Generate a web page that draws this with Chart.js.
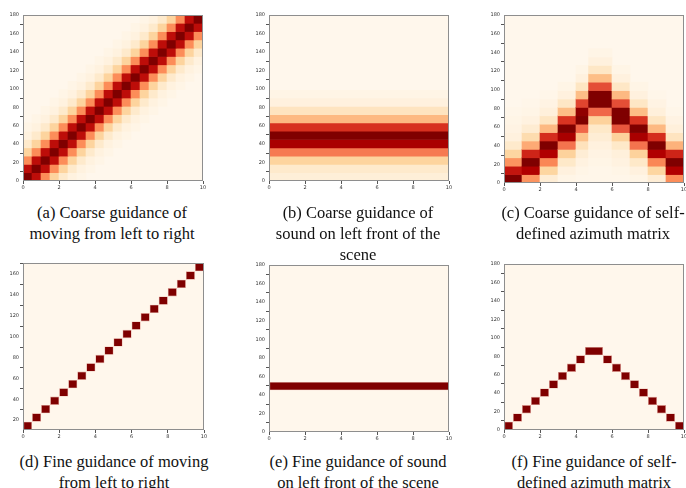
<!DOCTYPE html>
<html>
<head>
<meta charset="utf-8">
<script src="https://cdn.jsdelivr.net/npm/chart.js@4.4.0/dist/chart.umd.min.js"></script>
<style>
  body { margin: 0; width: 686px; height: 488px; background: #fff; position: relative; overflow: hidden; }
  canvas { position: absolute; }
  .cap { position: absolute; width: 240px; text-align: center; font-family: 'Liberation Serif', 'Times New Roman', serif;
         font-size: 16.5px; line-height: 21px; color: #111; white-space: nowrap; }
</style>
</head>
<body>
<canvas id="chart-a"></canvas>
<canvas id="chart-b"></canvas>
<canvas id="chart-c"></canvas>
<canvas id="chart-d"></canvas>
<canvas id="chart-e"></canvas>
<canvas id="chart-f"></canvas>

<div class="cap" style="left:-8px;top:202px">(a) Coarse guidance of<br>moving from left to right</div>
<div class="cap" style="left:238px;top:202px">(b) Coarse guidance of<br>sound on left front of the<br>scene</div>
<div class="cap" style="left:473px;top:202px">(c) Coarse guidance of self-<br>defined azimuth matrix</div>
<div class="cap" style="left:-6px;top:451px">(d) Fine guidance of moving<br>from left to right</div>
<div class="cap" style="left:238px;top:451px">(e) Fine guidance of sound<br>on left front of the scene</div>
<div class="cap" style="left:474px;top:451px">(f) Fine guidance of self-<br>defined azimuth matrix</div>

<script>
// matplotlib OrRd stops
const OR_RD = ['#fff7ec', '#fee8c8', '#fdd49e', '#fdbb84', '#fc8d59', '#ef6548', '#d7301f', '#b30000', '#7f0000'];

// tick values
const xTickValues = [0, 2, 4, 6, 8, 10];
const yTickValues = [0, 20, 40, 60, 80, 100, 120, 140, 160, 180];
const dYTickValues = [20, 40, 60, 80, 100, 120, 140, 160];

// time columns (half steps) and azimuth rows
const halfCols = [0, 0.5, 1, 1.5, 2, 2.5, 3, 3.5, 4, 4.5, 5, 5.5, 6, 6.5, 7, 7.5, 8, 8.5, 9, 9.5, 10];
const rows9 = [4.5, 13.5, 22.5, 31.5, 40.5, 49.5, 58.5, 67.5, 76.5, 85.5, 94.5, 103.5, 112.5, 121.5, 130.5, 139.5, 148.5, 157.5, 166.5, 175.5];
const rows8 = [14.5, 22.5, 30.5, 38.5, 46.5, 54.5, 62.5, 70.5, 78.5, 86.5, 94.5, 102.5, 110.5, 118.5, 126.5, 134.5, 142.5, 150.5, 158.5, 166.5];

// (a) coarse moving: peak row per column, falloff by row distance
const aPeakRow = [0, 1, 2, 3, 4, 5, 6, 7, 8, 9, 10, 11, 12, 13, 14, 15, 16, 17, 18, 19];
const aFalloff = [1.0, 0.84, 0.5, 0.25, 0.11, 0.045, 0.02];

// (b) coarse sound: intensity per row, bottom up
const bRowValues = [0.07, 0.11, 0.25, 0.56, 0.9, 1.0, 0.75, 0.38, 0.15, 0.05, 0.02, 0, 0, 0, 0, 0, 0, 0, 0, 0];

// (c) coarse azimuth: column edges and intensities per column, bottom row first
const cColEdges = [0, 1, 2, 3, 4, 4.7, 6, 7, 8, 9, 10];
const cColumns = [
  [1.0, 0.82, 0.48, 0.24, 0.11, 0.05, 0.03, 0.02, 0.01],
  [0.48, 0.88, 1.0, 0.78, 0.42, 0.2, 0.09, 0.04, 0.02, 0.01],
  [0.08, 0.24, 0.52, 0.88, 1.0, 0.76, 0.38, 0.14, 0.06, 0.03, 0.01],
  [0.02, 0.05, 0.12, 0.26, 0.58, 0.9, 1.0, 0.74, 0.36, 0.13, 0.05, 0.02],
  [0.01, 0.02, 0.04, 0.08, 0.16, 0.34, 0.62, 1.0, 0.96, 0.7, 0.36, 0.14, 0.05, 0.02],
  [0.01, 0.01, 0.02, 0.03, 0.05, 0.08, 0.12, 0.26, 0.62, 1.0, 1.0, 0.68, 0.36, 0.13, 0.05, 0.02],
  [0.01, 0.02, 0.04, 0.06, 0.12, 0.26, 0.66, 1.0, 1.0, 0.68, 0.38, 0.13, 0.05, 0.02],
  [0.02, 0.05, 0.12, 0.26, 0.58, 0.9, 1.0, 0.74, 0.36, 0.13, 0.05, 0.02],
  [0.08, 0.24, 0.52, 0.88, 1.0, 0.76, 0.38, 0.14, 0.06, 0.03, 0.01],
  [0.5, 0.88, 1.0, 0.78, 0.4, 0.15, 0.06, 0.03, 0.01]
];

// (d) fine moving, (e) fine sound, (f) fine azimuth
const dPeakRow = [0, 1, 2, 3, 4, 5, 6, 7, 8, 9, 10, 11, 12, 13, 14, 15, 16, 17, 18, 19];
const eRowValues = [0, 0, 0, 0, 0, 1, 0, 0, 0, 0, 0, 0, 0, 0, 0, 0, 0, 0, 0, 0];
const fColEdges = [0, 0.5, 1, 1.5, 2, 2.5, 3, 3.5, 4, 4.5, 5.5, 6, 6.5, 7, 7.5, 8, 8.5, 9, 9.5, 10];
const fPeakRow = [0, 1, 2, 3, 4, 5, 6, 7, 8, 9, 8, 7, 6, 5, 4, 3, 2, 1, 0];

function hexRgb(h) {
  return [1, 3, 5].map(i => parseInt(h.slice(i, i + 2), 16));
}

function cmap(v) {
  const t = Math.max(0, Math.min(1, v)) * (OR_RD.length - 1);
  const i = Math.min(OR_RD.length - 2, Math.floor(t));
  const f = t - i;
  const a = hexRgb(OR_RD[i]);
  const b = hexRgb(OR_RD[i + 1]);
  return 'rgb(' + a.map((c, k) => Math.round(c + (b[k] - c) * f)).join(',') + ')';
}

// build cell lists
const cellsA = [];
rows9.forEach((y, r) => {
  aPeakRow.forEach((pk, c) => {
    const v = aFalloff[Math.abs(pk - r)];
    if (v) cellsA.push({ y, x: [halfCols[c], halfCols[c + 1]], v });
  });
});

const cellsB = bRowValues.map((v, r) => ({ y: rows9[r], x: [0, 10], v }));

const cellsC = [];
cColumns.forEach((col, c) => {
  col.forEach((v, r) => cellsC.push({ y: rows9[r], x: [cColEdges[c], cColEdges[c + 1]], v }));
});

const cellsD = dPeakRow.map((r, c) => ({ y: rows8[r], x: [halfCols[c], halfCols[c + 1]], v: 1 }));
const cellsE = eRowValues.map((v, r) => ({ y: rows9[r], x: [0, 10], v }));
const cellsF = fPeakRow.map((r, c) => ({ y: rows9[r], x: [fColEdges[c], fColEdges[c + 1]], v: 1 }));

const framePlugin = {
  id: 'frame',
  beforeDatasetsDraw(chart) {
    const a = chart.chartArea, ctx = chart.ctx;
    ctx.save();
    ctx.fillStyle = cmap(0);
    ctx.fillRect(a.left, a.top, a.right - a.left, a.bottom - a.top);
    ctx.restore();
  },
  afterDatasetsDraw(chart) {
    const a = chart.chartArea, ctx = chart.ctx;
    ctx.save();
    ctx.strokeStyle = '#8e8e8e';
    ctx.lineWidth = 1;
    ctx.strokeRect(a.left + 0.5, a.top + 0.5, a.right - a.left - 1, a.bottom - a.top - 1);
    ctx.restore();
  }
};

const tickFont = { family: 'DejaVu Sans', size: 5 };

function fixedTicks(values) {
  return s => { s.ticks = values.map(v => ({ value: v })); };
}

function makeChart(id, box, cells, yMin, yMax, yTicks, fine) {
  const cv = document.getElementById(id);
  cv.width = box.w + 30;
  cv.height = box.h + 17;
  cv.style.left = (box.x - 24) + 'px';
  cv.style.top = (box.y - 3) + 'px';
  return new Chart(cv, {
    type: 'bar',
    data: {
      datasets: [{
        data: cells,
        backgroundColor: c => cmap(c.raw ? c.raw.v : 0),
        borderColor: 'rgba(222,150,140,0.9)',
        borderWidth: c => (fine && c.raw && c.raw.v > 0) ? 0.6 : 0,
        borderSkipped: false,
        inflateAmount: fine ? 0 : 'auto',
        barPercentage: 1,
        categoryPercentage: 1
      }]
    },
    options: {
      indexAxis: 'y',
      responsive: false,
      animation: false,
      events: [],
      layout: { padding: { top: 3, right: 6, left: 0, bottom: 0 } },
      plugins: { legend: { display: false }, tooltip: { enabled: false } },
      scales: {
        x: {
          type: 'linear', min: 0, max: 10, offset: false,
          afterFit: s => { s.height = 14; },
          afterBuildTicks: fixedTicks(xTickValues),
          ticks: { font: tickFont, color: '#333', padding: 1, maxRotation: 0 },
          grid: { drawOnChartArea: false, tickLength: 3, color: '#555' },
          border: { display: false }
        },
        y: {
          type: 'linear', min: yMin, max: yMax, offset: false,
          afterFit: s => { s.width = 24; },
          afterBuildTicks: fixedTicks(yTicks),
          ticks: { font: tickFont, color: '#333', padding: 1 },
          grid: { drawOnChartArea: false, tickLength: 3, color: '#555' },
          border: { display: false }
        }
      }
    },
    plugins: [framePlugin]
  });
}

makeChart('chart-a', { x: 23, y: 14, w: 180, h: 167 }, cellsA, 0, 180, yTickValues, false);
makeChart('chart-b', { x: 269, y: 14, w: 180, h: 167 }, cellsB, 0, 180, yTickValues, false);
makeChart('chart-c', { x: 504, y: 14, w: 180, h: 169 }, cellsC, 0, 180, yTickValues, false);
makeChart('chart-d', { x: 23, y: 262, w: 181, h: 168 }, cellsD, 10.5, 170.5, dYTickValues, true);
makeChart('chart-e', { x: 269, y: 264, w: 180, h: 168 }, cellsE, 0, 180, yTickValues, true);
makeChart('chart-f', { x: 504, y: 263, w: 180, h: 167 }, cellsF, 0, 180, yTickValues, true);
</script>
</body>
</html>
